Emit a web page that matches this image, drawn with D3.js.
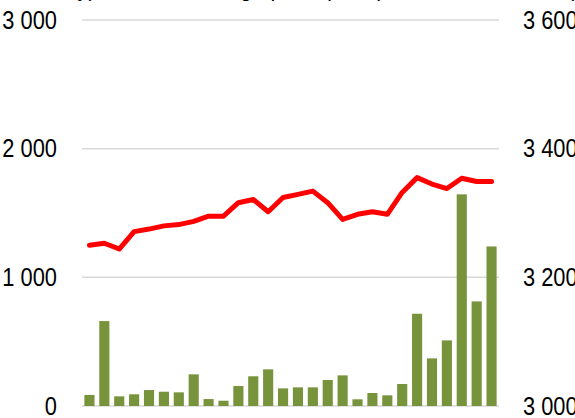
<!DOCTYPE html>
<html>
<head>
<meta charset="utf-8">
<script src="https://cdn.jsdelivr.net/npm/d3@7"></script>
<style>
  body { margin: 0; background: #fff; }
  svg text { font-family: "Liberation Sans Narrow", "Arial Narrow", "Liberation Sans", Arial, sans-serif; }
</style>
</head>
<body>
<div id="chart"></div>
<script>
// values
const periods = d3.range(1, 29).map(i => 'P' + i);
const volumes = [86, 660, 75, 91, 124, 111, 106, 246, 54, 41, 155, 231, 285, 137,
                 145, 145, 202, 238, 52, 101, 83, 171, 717, 370, 510, 1645, 813, 1240];
const prices = [3250, 3253, 3244, 3271, 3275, 3280, 3282, 3287, 3295, 3295, 3316, 3321, 3302, 3324,
                3329, 3334, 3316, 3290, 3298, 3302, 3298, 3332, 3355, 3345, 3338, 3354, 3349, 3349];
const leftTicks = [0, 1000, 2000, 3000];
const rightTicks = [3000, 3200, 3400, 3600];

const width = 575, height = 418;
const x0 = 82, x1 = 499, yTop = 20, yBottom = 406;
const squeeze = 'scale(0.84,1)'; // narrow look of the original font

const svg = d3.select('#chart').append('svg')
    .attr('width', width)
    .attr('height', height);

const x = d3.scaleBand().domain(periods).range([x0, x1]).paddingInner(0.32).paddingOuter(0.16);
const yL = d3.scaleLinear().domain([0, 3000]).range([yBottom, yTop]);
const yR = d3.scaleLinear().domain([3000, 3600]).range([yBottom, yTop]);

const fmt = d => d3.format(',')(d).replace(/,/g, ' ');

// gridlines
svg.append('g')
    .selectAll('line')
    .data(leftTicks)
    .enter().append('line')
    .attr('x1', x0).attr('x2', x1)
    .attr('y1', d => yL(d)).attr('y2', d => yL(d))
    .attr('stroke', '#d9d9d9')
    .attr('stroke-width', 1.5);

// left axis
const gl = svg.append('g')
    .attr('transform', `translate(57,0)`)
    .call(d3.axisLeft(yL).tickValues(leftTicks).tickSize(0).tickPadding(0).tickFormat(fmt));
gl.select('.domain').remove();
gl.selectAll('text').attr('font-size', 26).attr('fill', '#000').attr('transform', squeeze);

// right axis
const gr = svg.append('g')
    .attr('transform', `translate(523,0)`)
    .call(d3.axisRight(yR).tickValues(rightTicks).tickSize(0).tickPadding(0).tickFormat(fmt));
gr.select('.domain').remove();
gr.selectAll('text').attr('font-size', 26).attr('fill', '#000').attr('transform', squeeze);

// bars
svg.append('g')
    .selectAll('rect')
    .data(volumes)
    .enter().append('rect')
    .attr('x', (d, i) => x(periods[i]))
    .attr('width', x.bandwidth())
    .attr('y', d => yL(d))
    .attr('height', d => yBottom - yL(d))
    .attr('fill', '#77933c');

// price line
const line = d3.line()
    .x((d, i) => x(periods[i]) + x.bandwidth() / 2)
    .y(d => yR(d));

svg.append('path')
    .datum(prices)
    .attr('d', line)
    .attr('fill', 'none')
    .attr('stroke', '#ff0000')
    .attr('stroke-width', 5)
    .attr('stroke-linejoin', 'round')
    .attr('stroke-linecap', 'round');

// titles, cut by the top edge
svg.append('g')
    .attr('transform', 'translate(12,0) ' + squeeze)
    .append('text')
    .attr('y', -4)
    .attr('font-size', 26)
    .text('Monthly), tonnes; average price (EUR)');
svg.append('g')
    .attr('transform', 'translate(567,0) ' + squeeze)
    .append('text')
    .attr('y', -4)
    .attr('font-size', 26)
    .text('(EUR/t)');
</script>
</body>
</html>
